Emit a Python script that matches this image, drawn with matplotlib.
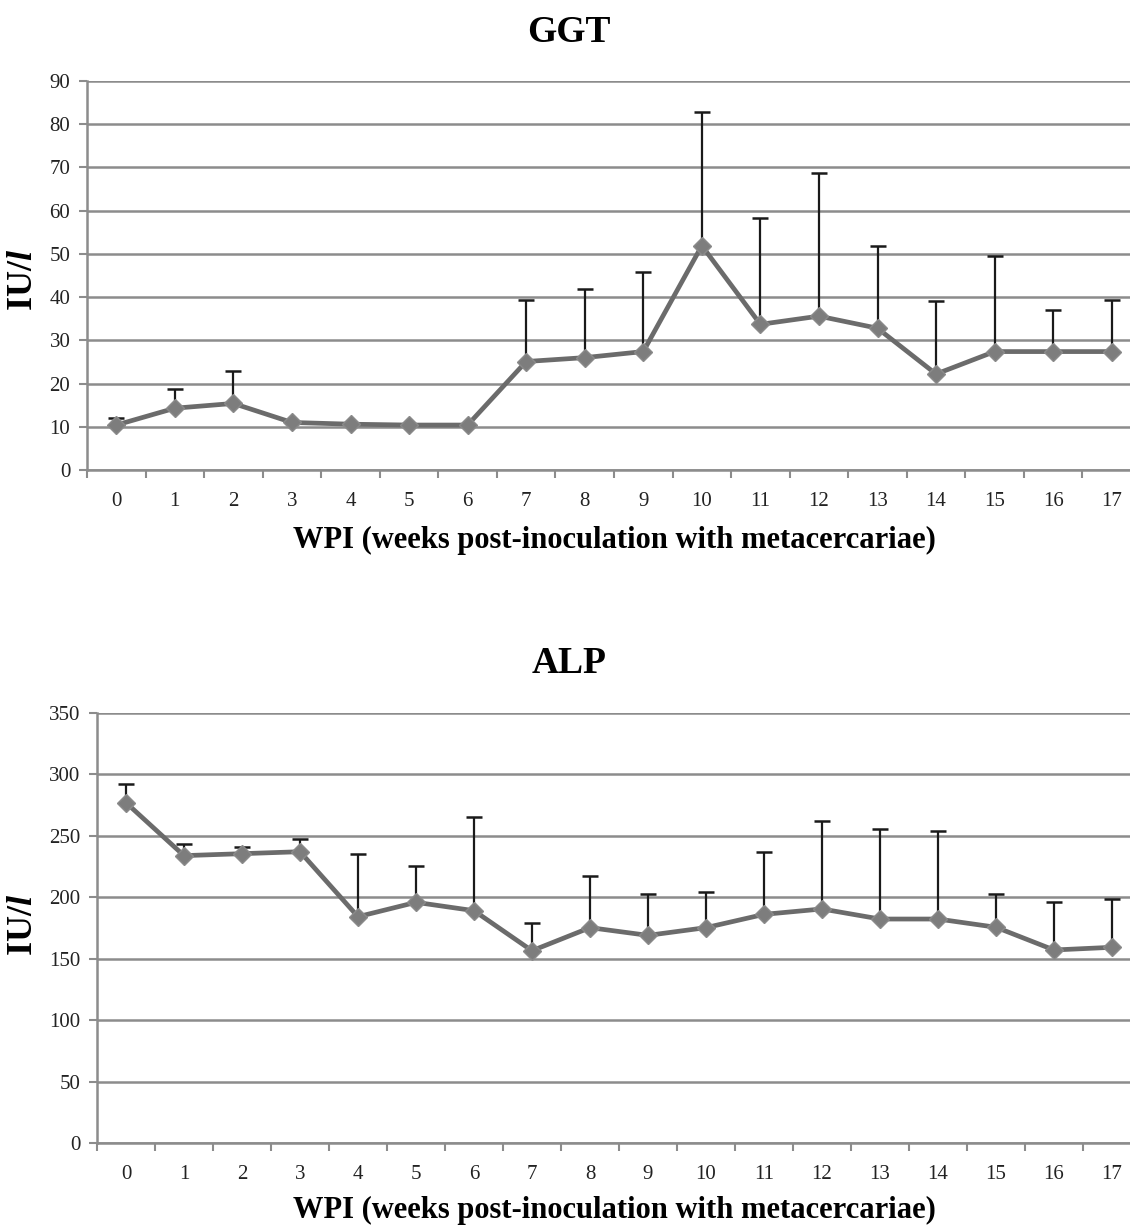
import matplotlib
matplotlib.use("Agg")
import matplotlib.pyplot as plt
import numpy as np

weeks = list(range(18))
ggt_mean = [10.4, 14.3, 15.4, 11.0, 10.6, 10.4, 10.4, 25.1, 26.0, 27.4, 51.9, 33.7, 35.6, 32.8, 22.2, 27.4, 27.4, 27.4]
ggt_upper = [12.0, 18.7, 23.0, 11.0, 10.6, 10.4, 10.4, 39.4, 41.8, 45.8, 82.8, 58.2, 68.8, 51.9, 39.0, 49.5, 37.0, 39.4]
alp_mean = [277, 233.9, 235.5, 237.1, 184.2, 195.9, 189.1, 156.5, 175.3, 169.0, 175.3, 186.1, 190.5, 182.3, 182.3, 175.6, 157.1, 159.3]
alp_upper = [292, 243.4, 240.9, 247.2, 235.2, 225.7, 265.3, 179.1, 217.3, 202.4, 204.0, 237.1, 262.1, 255.6, 253.7, 202.4, 195.9, 198.8]

plt.rcParams['font.family'] = ['Liberation Serif', 'DejaVu Serif']
plt.rcParams['mathtext.fontset'] = 'custom'
plt.rcParams['mathtext.it'] = 'Liberation Serif:italic:bold'
plt.rcParams['mathtext.bf'] = 'Liberation Serif:bold'

W, H = 1130, 1225
fig = plt.figure(figsize=(W/100, H/100), dpi=100)

def px_axes(l, t, r, b):
    return fig.add_axes([l/W, 1 - b/H, (r-l)/W, (b-t)/H])

def draw(ax, mean, upper, ymax, ystep, title, title_y, xlabel_y, ylab_y):
    mean = np.array(mean); upper = np.array(upper)
    err = np.clip(upper - mean, 0, None)
    ax.errorbar(weeks, mean, yerr=[np.zeros_like(err), err], fmt='none',
                ecolor='#1a1a1a', elinewidth=1.6, capsize=6, capthick=1.8, zorder=2)
    ax.plot(weeks, mean, color='#6b6b6b', lw=3.4, marker='D', markersize=9,
            markerfacecolor='#7d7d7d', markeredgecolor='#8a8a8a', zorder=3)
    ax.set_xlim(-0.5, 17.5)
    ax.set_ylim(0, ymax)
    ax.set_yticks(np.arange(0, ymax + 1, ystep))
    ax.yaxis.grid(True, color='#8c8c8c', lw=1.8)
    ax.set_axisbelow(True)
    ax.set_xticks(weeks)
    ax.set_xticklabels([str(w) for w in weeks])
    ax.set_xticks(np.arange(-0.5, 18, 1), minor=True)
    ax.tick_params(axis='x', which='major', length=0, pad=16, labelsize=15, colors='#222222')
    ax.tick_params(axis='x', which='minor', length=6, width=1.5, color='#8c8c8c')
    ax.tick_params(axis='y', length=6, width=1.5, color='#8c8c8c', labelsize=15, labelcolor='#222222', pad=6)
    for s in ['top', 'right']:
        ax.spines[s].set_visible(False)
    for s in ['left', 'bottom']:
        ax.spines[s].set_color('#8c8c8c')
        ax.spines[s].set_linewidth(1.8)
    fig.text(569 / W, 1 - title_y / H, title, ha='center', va='center',
             fontsize=27, fontweight='bold')
    fig.text(614 / W, 1 - xlabel_y / H, 'WPI (weeks post-inoculation with metacercariae)',
             ha='center', va='center', fontsize=22, fontweight='bold')
    fig.text(24 / W, 1 - ylab_y / H, r'IU/$\mathit{l}$', rotation=90,
             ha='center', va='center', fontsize=26, fontweight='bold')

ax1 = px_axes(87, 81, 1141, 470)
draw(ax1, ggt_mean, ggt_upper, 90, 10, 'GGT', 33, 540, 280)

ax2 = px_axes(97, 713, 1141, 1143)
draw(ax2, alp_mean, alp_upper, 350, 50, 'ALP', 663, 1210, 925)

fig.savefig('out.png', dpi=100)
